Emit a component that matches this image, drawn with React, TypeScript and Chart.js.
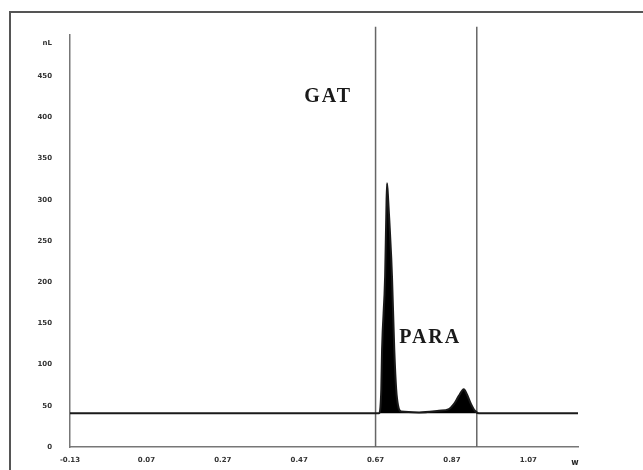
import React, { useEffect, useRef } from "react";
import { Chart, registerables } from "chart.js";

Chart.register(...registerables);

// Signal trace (x in axis units, y in signal units)
const traceX = [-0.13, 0.3, 0.6, 0.679, 0.685, 0.687, 0.695, 0.698, 0.7, 0.703, 0.706, 0.711, 0.713, 0.719, 0.724, 0.729, 0.737, 0.784, 0.836, 0.862, 0.875, 0.888, 0.901, 0.909, 0.92, 0.93, 0.94, 1.07, 1.2];
const traceY = [41, 41, 41, 41, 70, 118, 207, 280, 320, 300, 275, 230, 207, 118, 70, 50, 43, 42, 44, 46, 52, 62, 70, 64, 52, 44, 41, 41, 41];

// Window markers
const markerX = [0.67, 0.935];
const markerTop = 510;

// Axis ticks
const xTicks = [-0.13, 0.07, 0.27, 0.47, 0.67, 0.87, 1.07];
const xTickLabels = ["-0.13", "0.07", "0.27", "0.47", "0.67", "0.87", "1.07"];
const yTicks = [0, 50, 100, 150, 200, 250, 300, 350, 400, 450, 490];
const yTickLabels = ["0", "50", "100", "150", "200", "250", "300", "350", "400", "450", "nL"];

// Peak labels
const peakLabels = [
  { text: "GAT", x: 0.546, y: 425 },
  { text: "PARA", x: 0.813, y: 132 },
];

export default function App() {
  const ref = useRef<HTMLCanvasElement | null>(null);

  useEffect(() => {
    if (!ref.current) return;
    const framePlugin = {
      id: "frame",
      beforeDraw(chart: any) {
        const ctx = chart.ctx;
        ctx.save();
        ctx.fillStyle = "#ffffff";
        ctx.fillRect(0, 0, chart.width, chart.height);
        ctx.strokeStyle = "#555";
        ctx.lineWidth = 2;
        ctx.beginPath();
        ctx.moveTo(10, 470);
        ctx.lineTo(10, 12);
        ctx.lineTo(643, 12);
        ctx.stroke();
        ctx.restore();
      },
      afterDraw(chart: any) {
        const ctx = chart.ctx;
        const xs = chart.scales.x;
        const ys = chart.scales.y;
        ctx.save();
        ctx.fillStyle = "#1a1a1a";
        ctx.font = "bold 20px 'Liberation Serif'";
        (ctx as any).letterSpacing = "2px";
        ctx.textAlign = "center";
        ctx.textBaseline = "middle";
        for (const l of peakLabels) {
          ctx.fillText(l.text, xs.getPixelForValue(l.x), ys.getPixelForValue(l.y));
        }
        (ctx as any).letterSpacing = "0px";
        ctx.font = "bold 8px 'DejaVu Sans'";
        ctx.fillStyle = "#222";
        ctx.fillText("w", 575, 463);
        ctx.restore();
      },
    };

    const chart = new Chart(ref.current, {
      type: "line",
      data: {
        datasets: [
          {
            data: traceX.map((x, i) => ({ x, y: traceY[i] })),
            borderColor: "#1a1a1a",
            borderWidth: 2,
            backgroundColor: "#000",
            fill: { value: 41 },
            pointRadius: 0,
            cubicInterpolationMode: "monotone",
          } as any,
          ...markerX.map((mx) => ({
            data: [
              { x: mx, y: 0 },
              { x: mx, y: markerTop },
            ],
            borderColor: "#666",
            borderWidth: 1.5,
            pointRadius: 0,
            fill: false,
            clip: false,
          })),
        ],
      },
      options: {
        animation: false,
        responsive: false,
        devicePixelRatio: 1,
        layout: { padding: { top: 35, right: 65, left: 0, bottom: 0 } },
        plugins: { legend: { display: false }, tooltip: { enabled: false } },
        scales: {
          x: {
            type: "linear",
            min: -0.13,
            max: 1.2,
            grid: { display: false },
            border: { display: true, color: "#777", width: 1.5 },
            afterBuildTicks: (s: any) => {
              s.ticks = xTicks.map((v) => ({ value: v }));
            },
            afterFit: (s: any) => {
              s.height = 23;
            },
            ticks: {
              padding: 1,
              autoSkip: false,
              maxRotation: 0,
              color: "#333",
              font: { size: 7, family: "DejaVu Sans", weight: "bold" },
              callback: (v: any) => {
                const i = xTicks.indexOf(v);
                return i >= 0 ? xTickLabels[i] : "";
              },
            },
          },
          y: {
            type: "linear",
            min: 0,
            max: 500,
            grid: { display: false },
            border: { display: true, color: "#777", width: 1.5 },
            afterBuildTicks: (s: any) => {
              s.ticks = yTicks.map((v) => ({ value: v }));
            },
            afterFit: (s: any) => {
              s.width = 70;
            },
            ticks: {
              padding: 10,
              autoSkip: false,
              color: "#333",
              font: { size: 7, family: "DejaVu Sans", weight: "bold" },
              callback: (v: any) => {
                const i = yTicks.indexOf(v);
                return i >= 0 ? yTickLabels[i] : "";
              },
            },
          },
        },
      },
      plugins: [framePlugin],
    } as any);
    return () => chart.destroy();
  }, []);

  return (
    <div style={{ position: "fixed", left: 0, top: 0, width: 643, height: 470, background: "#fff" }}>
      <canvas ref={ref} width={643} height={470} style={{ display: "block" }} />
    </div>
  );
}
